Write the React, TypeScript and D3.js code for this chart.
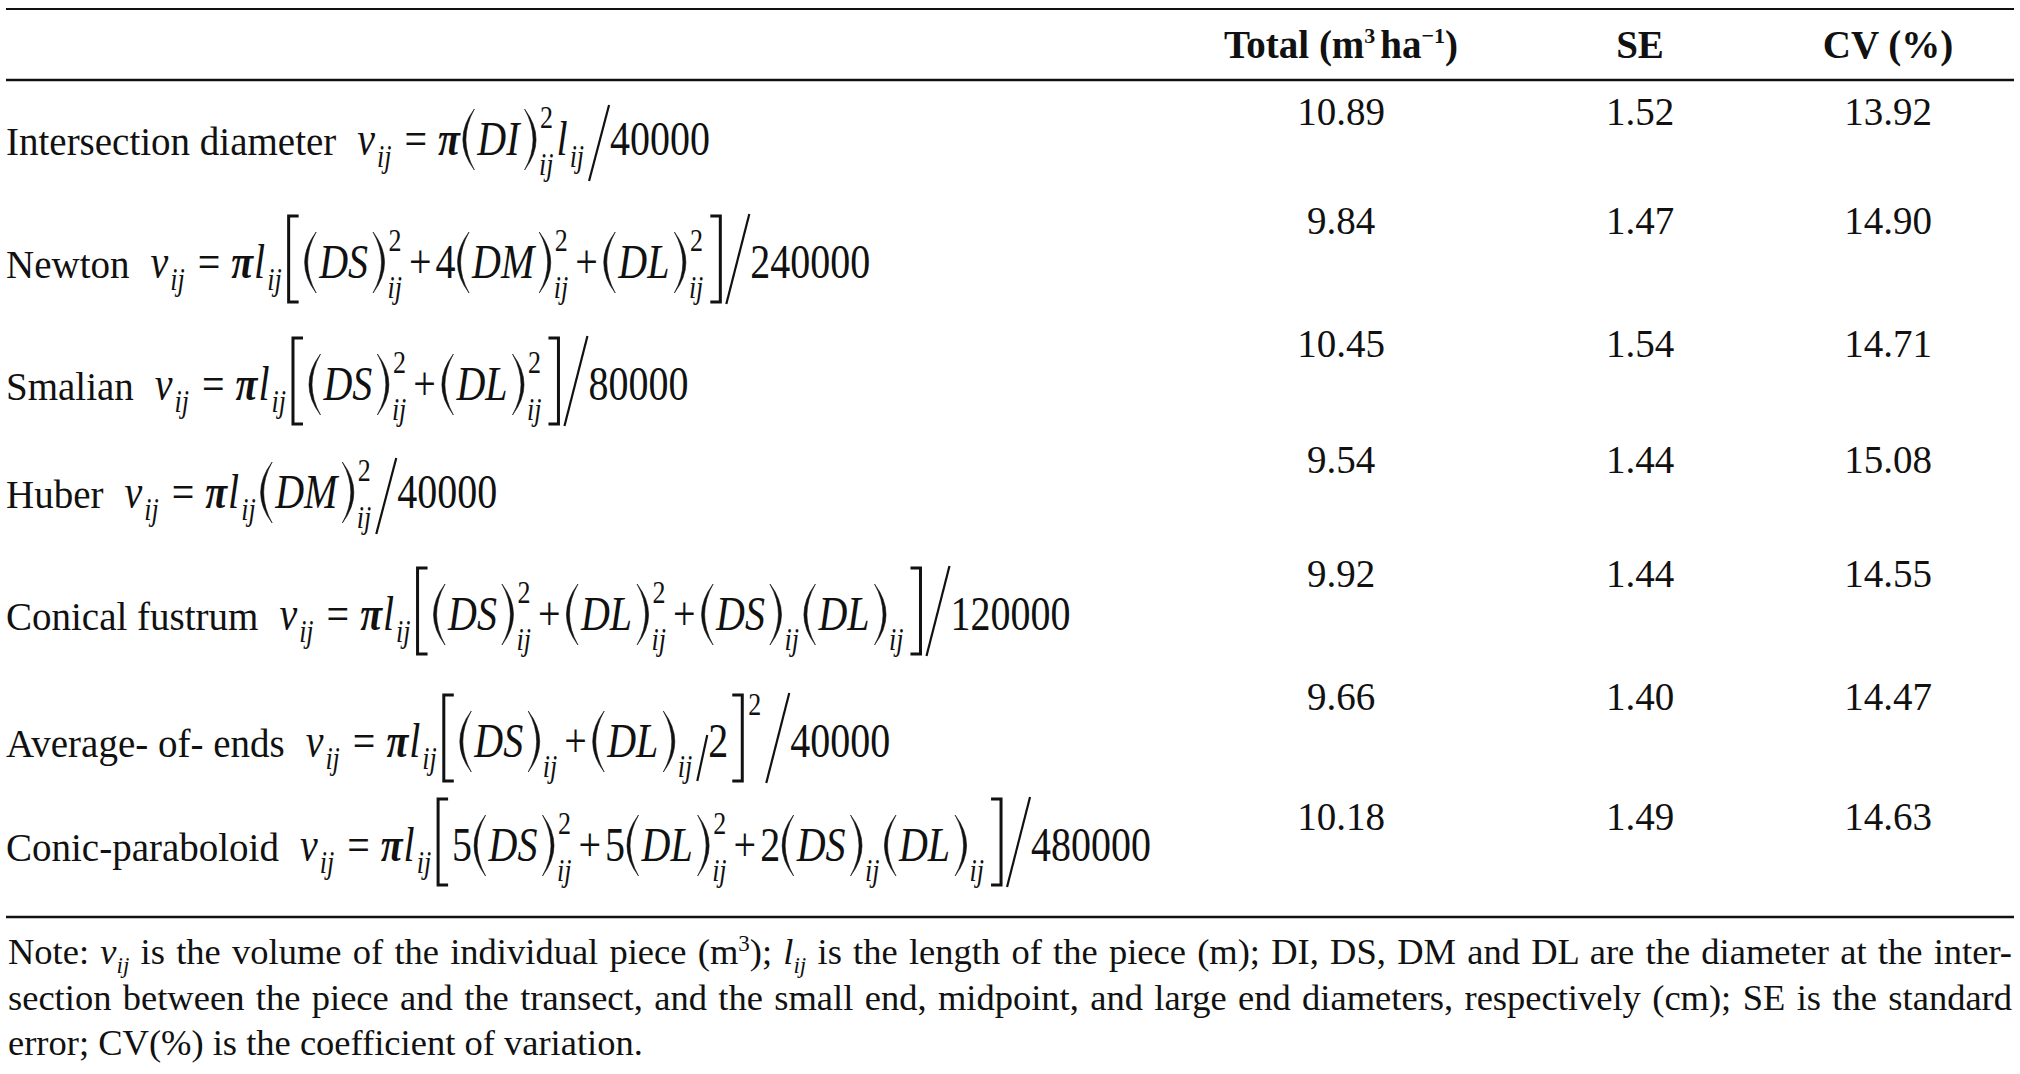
import { useEffect, useRef } from 'react';
import * as d3 from 'd3';

const W = 2020;
const H = 1074;
const FONT = '"Liberation Serif", "Times New Roman", serif';

// ---- table data ----
const methods = [
  'Intersection diameter',
  'Newton',
  'Smalian',
  'Huber',
  'Conical fustrum',
  'Average- of- ends',
  'Conic-paraboloid',
];
const totals = [10.89, 9.84, 10.45, 9.54, 9.92, 9.66, 10.18];
const seValues = [1.52, 1.47, 1.54, 1.44, 1.44, 1.4, 1.49];
const cvValues = [13.92, 14.9, 14.71, 15.08, 14.55, 14.47, 14.63];
const columns = ['total', 'se', 'cv'];

// formulas as space separated tokens (parsed by the little typesetter below)
const formulas = [
  'v _ij = π ( DI ) ^2_ij l _ij /m 40000',
  'v _ij = π l _ij [ ( DS ) ^2_ij + 4 ( DM ) ^2_ij + ( DL ) ^2_ij ] /b 240000',
  'v _ij = π l _ij [ ( DS ) ^2_ij + ( DL ) ^2_ij ] /b 80000',
  'v _ij = π l _ij ( DM ) ^2_ij /m 40000',
  'v _ij = π l _ij [ ( DS ) ^2_ij + ( DL ) ^2_ij + ( DS ) __ij ( DL ) __ij ] /b 120000',
  'v _ij = π l _ij [ ( DS ) __ij + ( DL ) __ij /s 2 ] ^2 /b 40000',
  'v _ij = π l _ij [ 5 ( DS ) ^2_ij + 5 ( DL ) ^2_ij + 2 ( DS ) __ij ( DL ) __ij ] /b 480000',
];

// note: segments, kind = n (normal) | i (italic) | sub | sup
const noteLines = [
  [['n', 'Note: '], ['i', 'v'], ['sub', 'ij'], ['n', ' is the volume of the individual piece (m'], ['sup', '3'], ['n', '); '], ['i', 'l'], ['sub', 'ij'], ['n', ' is the length of the piece (m); DI, DS, DM and DL are the diameter at the inter-']],
  [['n', 'section between the piece and the transect, and the small end, midpoint, and large end diameters, respectively (cm); SE is the standard']],
  [['n', 'error; CV(%) is the coefficient of variation.']],
];

// ---- layout ----
const labelBaselines = [155, 278, 400, 508, 630, 757, 861];
const valueBaselines = [125, 234, 357, 473, 587, 710, 830];
const colCenters = [1341, 1640, 1888];
const noteBaselines = [964, 1010, 1055];

const FS = 39; // body text
const MFS = 40; // math
const SFS = 26; // sub / sup
const K = 1.2; // math glyphs are set a bit taller than the body text

export default function App() {
  const ref = useRef<SVGSVGElement>(null);

  useEffect(() => {
    if (!ref.current) return;
    const svg = d3.select(ref.current);
    svg.selectAll('*').remove();
    svg.append('rect').attr('width', W).attr('height', H).attr('fill', '#fff');

    const labelY = d3.scaleOrdinal<string, number>().domain(methods).range(labelBaselines);
    const valueY = d3.scaleOrdinal<string, number>().domain(methods).range(valueBaselines);
    const colX = d3.scaleOrdinal<string, number>().domain(columns).range(colCenters);
    const f2 = d3.format('.2f');

    // rules
    const rule = (y: number, sw: number) =>
      svg.append('line').attr('x1', 6).attr('x2', 2014).attr('y1', y).attr('y2', y).attr('stroke', '#111').attr('stroke-width', sw);
    rule(9, 2);
    rule(80, 2.5);
    rule(917, 2.5);

    // header
    const hdr = svg.append('g').attr('font-weight', 'bold').attr('font-size', FS).attr('text-anchor', 'middle');
    const t1 = hdr.append('text').attr('x', colX('total')).attr('y', 58);
    t1.append('tspan').text('Total (m');
    t1.append('tspan').attr('font-size', 22).attr('dy', -15).text('3');
    t1.append('tspan').attr('dy', 15).attr('dx', 5).text('ha');
    t1.append('tspan').attr('font-size', 22).attr('dy', -15).text('−1');
    t1.append('tspan').attr('dy', 15).text(')');
    hdr.append('text').attr('x', colX('se')).attr('y', 58).text('SE');
    hdr.append('text').attr('x', colX('cv')).attr('y', 58).text('CV (%)');

    // values
    const vals = svg.append('g').attr('font-size', FS).attr('text-anchor', 'middle');
    methods.forEach((m, i) => {
      const y = valueY(m);
      vals.append('text').attr('x', colX('total')).attr('y', y).text(f2(totals[i]));
      vals.append('text').attr('x', colX('se')).attr('y', y).text(f2(seValues[i]));
      vals.append('text').attr('x', colX('cv')).attr('y', y).text(f2(cvValues[i]));
    });

    // little formula typesetter
    const place = (g: any, tok: string, x: number, b: number) => {
      const txt = (s: string, xx: number, y: number, o: any = {}) => {
        const t = g
          .append('text')
          .attr('transform', `translate(${xx},${y}) scale(1,${K})`)
          .attr('font-size', o.size ?? MFS)
          .attr('font-style', o.italic ? 'italic' : 'normal')
          .attr('font-weight', o.bold ? 'bold' : 'normal')
          .text(s);
        return (t.node() as SVGTextElement).getComputedTextLength();
      };
      if (tok === '=') return x + 10 + txt('=', x + 10, b) + 9;
      if (tok === '+') return x + 4 + txt('+', x + 4, b) + 4;
      if (tok === 'π') return x + 2 + txt('π', x + 2, b, { italic: true, bold: true }) + 1;
      if (tok === '(' || tok === ')') {
        const left = tok === '(';
        const w = 16.5;
        const top = b - 46;
        const bot = b + 15;
        const mid = (top + bot) / 2;
        const xe = left ? x + w - 3 : x + 3;
        const xb = left ? x + 2 : x + w - 2;
        const t = left ? 3 : -3;
        const c1 = 2 * xb - xe;
        const c2 = 2 * (xb + t) - xe;
        g.append('path')
          .attr('d', `M${xe},${top}Q${c1},${mid} ${xe},${bot}Q${c2},${mid} ${xe},${top}Z`)
          .attr('fill', '#111')
          .attr('stroke', '#111')
          .attr('stroke-width', 0.6);
        return x + w;
      }
      if (tok === '[' || tok === ']') {
        const left = tok === '[';
        const w = 18;
        const top = b - 62;
        const bot = b + 24;
        const xv = left ? x + 4 : x + w - 4;
        const xa = left ? x + 14 : x + 4;
        g.append('path')
          .attr('d', `M${xa},${top}H${xv}V${bot}H${xa}`)
          .attr('fill', 'none')
          .attr('stroke', '#111')
          .attr('stroke-width', 3);
        return x + w;
      }
      if (tok.startsWith('/')) {
        const kind = tok.slice(1);
        const geo = kind === 'b' ? [25, -64, 26] : kind === 'm' ? [22, -50, 26] : [12, -22, 24];
        g.append('line')
          .attr('x1', x + geo[0])
          .attr('y1', b + geo[1])
          .attr('x2', x + 2)
          .attr('y2', b + geo[2])
          .attr('stroke', '#111')
          .attr('stroke-width', 2.2);
        return x + geo[0] + 1;
      }
      if (tok.startsWith('^')) {
        const [sup, sub] = tok.slice(1).split('_');
        const w1 = txt(sup, x + 2, sub ? b - 27 : b - 42, { size: SFS });
        const w2 = sub ? txt(sub, x + 1, b + 20, { size: SFS, italic: true }) : 0;
        return x + Math.max(w1 + 2, w2 + 1) + 3;
      }
      if (tok.startsWith('__')) return x + 1 + txt(tok.slice(2), x + 1, b + 20, { size: SFS, italic: true }) + 3;
      if (tok.startsWith('_')) return x + txt(tok.slice(1), x, b + 12, { size: SFS, italic: true }) + 3;
      if (/^\d+$/.test(tok)) return x + txt(tok, x, b);
      return x + txt(tok, x, b, { italic: true }) + 2;
    };

    methods.forEach((m, i) => {
      const b = labelY(m);
      const g = svg.append('g');
      const lab = g.append('text').attr('x', 6).attr('y', b).attr('font-size', FS).text(m);
      let x = 6 + (lab.node() as SVGTextElement).getComputedTextLength() + 21;
      formulas[i].split(' ').forEach((tok) => {
        x = place(g, tok, x, b);
      });
    });

    // note, first two lines justified
    const note = svg.append('g').attr('font-size', 36.5);
    noteLines.forEach((segs, li) => {
      const t = note.append('text').attr('x', 8).attr('y', noteBaselines[li]);
      let shift = 0;
      segs.forEach(([kind, s]) => {
        const target = kind === 'sub' ? 9 : kind === 'sup' ? -13 : 0;
        const sp = t.append('tspan').attr('dy', target - shift).text(s);
        shift = target;
        if (kind === 'i') sp.attr('font-style', 'italic');
        if (kind === 'sub') sp.attr('font-style', 'italic').attr('font-size', 23);
        if (kind === 'sup') sp.attr('font-size', 23);
      });
      if (li < noteLines.length - 1) {
        const natural = (t.node() as SVGTextElement).getComputedTextLength();
        const spaces = segs.map((d) => d[1]).join('').split(' ').length - 1;
        t.attr('word-spacing', (2012 - 8 - natural) / spaces);
      }
    });
  }, []);

  return (
    <svg
      ref={ref}
      width={W}
      height={H}
      fontFamily={FONT}
      fill="#111"
      style={{ position: 'absolute', left: 0, top: 0 }}
    />
  );
}
